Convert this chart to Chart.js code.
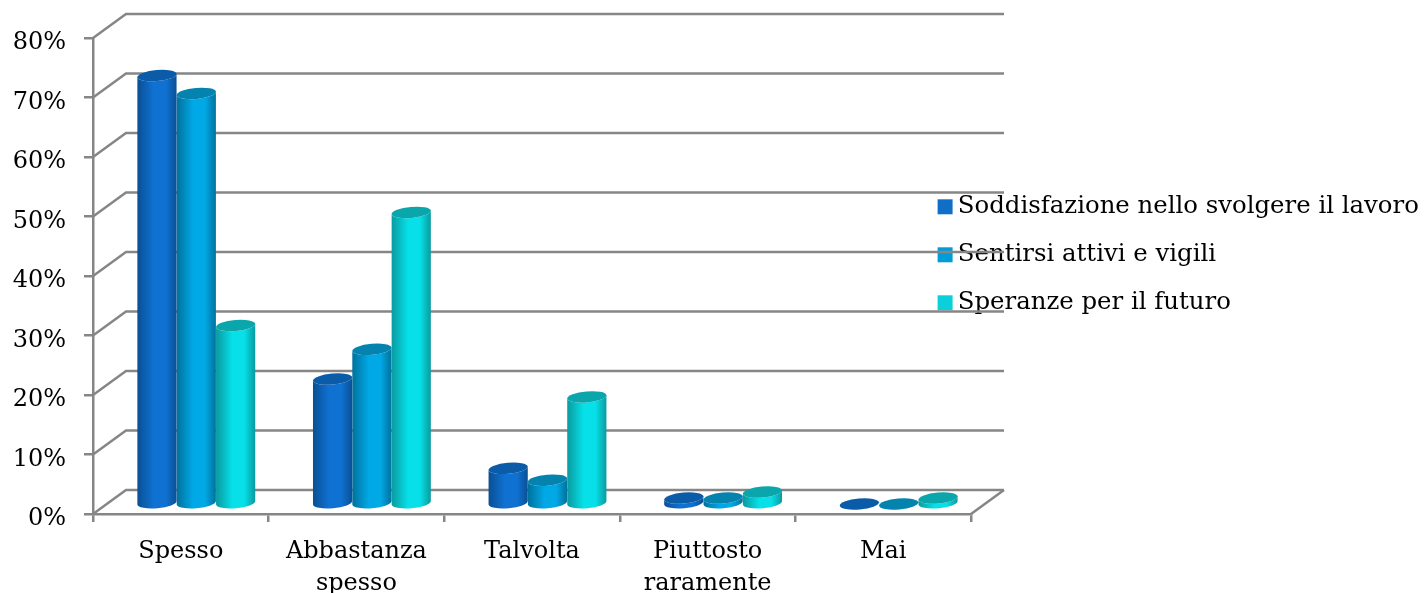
<!DOCTYPE html>
<html lang="it">
<head>
    <meta charset="UTF-8">
    <title>Frequenza</title>
    <script src="https://cdn.jsdelivr.net/npm/chart.js"></script>
    <style>
        html, body { margin: 0; padding: 0; background: #fff; }
        canvas { display: block; }
    </style>
</head>
<body>
    <canvas id="chart" width="1425" height="593"></canvas>

    <script>
        const categories = [['Spesso'], ['Abbastanza', 'spesso'], ['Talvolta'], ['Piuttosto', 'raramente'], ['Mai']];
        const seriesNames = ['Soddisfazione nello svolgere il lavoro', 'Sentirsi attivi e vigili', 'Speranze per il futuro'];
        const soddisfazione = [72, 21, 6, 1, 0];
        const attivi = [69, 26, 4, 1, 0];
        const speranze = [30, 49, 18, 2, 1];

        // flat colour (legend), cylinder edge, cylinder centre, cap
        const flatColors = ['#0f6fc6', '#009dd9', '#0bd0d9'];
        const edgeColors = ['#0a4f94', '#00719c', '#0a9a9f'];
        const midColors = ['#0f72d2', '#00a8e6', '#07e0e8'];
        const capColors = ['#0b5ca8', '#0483ae', '#0ba6ab'];

        const axisColor = '#868686';
        const wallDx = 33, wallDy = -24;   // how far the back wall sits behind the axes
        const barDx = 15.5, barDy = -10;   // bars stand in the middle of the floor
        const capRy = 5.5, capTilt = -5 * Math.PI / 180;

        // Bar element that keeps the normal geometry but paints a cylinder
        class CylinderBar extends Chart.BarElement {
            draw(ctx) {
                const { x, y, base, width } = this.getProps(['x', 'y', 'base', 'width']);
                const o = this.options;
                const cx = x + barDx, top = y + barDy, bottom = base + barDy;
                const rx = width / 2;
                const ex = rx * Math.cos(capTilt), ey = rx * Math.sin(capTilt);

                const grad = ctx.createLinearGradient(cx - rx, 0, cx + rx, 0);
                grad.addColorStop(0, o.edgeColor);
                grad.addColorStop(0.42, o.midColor);
                grad.addColorStop(0.72, o.midColor);
                grad.addColorStop(1, o.edgeColor);

                ctx.save();
                ctx.beginPath();
                ctx.ellipse(cx, bottom, rx, capRy, capTilt, 0, Math.PI);
                ctx.lineTo(cx - ex, top - ey);
                ctx.ellipse(cx, top, rx, capRy, capTilt, Math.PI, 0, true);
                ctx.closePath();
                ctx.fillStyle = grad;
                ctx.fill();

                ctx.beginPath();
                ctx.ellipse(cx, top, rx, capRy, capTilt, 0, Math.PI * 2);
                ctx.fillStyle = o.capColor;
                ctx.fill();
                ctx.restore();
            }
        }
        CylinderBar.id = 'cylinderBar';
        CylinderBar.defaults = { edgeColor: '#000', midColor: '#000', capColor: '#000' };

        class CylinderController extends Chart.BarController {}
        CylinderController.id = 'cylinder';
        CylinderController.defaults = { dataElementType: 'cylinderBar' };

        Chart.register(CylinderBar, CylinderController);

        // Back wall, floor edge and the diagonals that join them to the axes
        const wallPlugin = {
            id: 'wall',
            beforeDatasetsDraw(chart) {
                const { ctx, chartArea, scales } = chart;
                const left = chartArea.left, right = chartArea.right;
                ctx.save();
                ctx.strokeStyle = axisColor;
                ctx.lineWidth = 2.5;
                scales.y.ticks.forEach((tick, i) => {
                    const py = scales.y.getPixelForTick(i);
                    ctx.beginPath();
                    ctx.moveTo(left, py);
                    ctx.lineTo(left + wallDx, py + wallDy);
                    ctx.lineTo(right + wallDx, py + wallDy);
                    ctx.stroke();
                });
                ctx.beginPath();
                ctx.moveTo(right, scales.y.bottom);
                ctx.lineTo(right + wallDx, scales.y.bottom + wallDy);
                ctx.stroke();
                ctx.restore();
            },
            afterLayout(chart) {
                // the legend sits over the end of the wall
                const legend = chart.legend;
                const w = legend.width, h = legend.height;
                legend.left = 921;
                legend.right = 921 + w;
                legend.top = 171;
                legend.bottom = 171 + h;
                legend.adjustHitBoxes();
            }
        };

        const makeDataset = (i, values) => ({
            label: seriesNames[i],
            data: values,
            backgroundColor: flatColors[i],
            edgeColor: edgeColors[i],
            midColor: midColors[i],
            capColor: capColors[i]
        });

        new Chart(document.getElementById('chart').getContext('2d'), {
            type: 'cylinder',
            data: {
                labels: categories,
                datasets: [
                    makeDataset(0, soddisfazione),
                    makeDataset(1, attivi),
                    makeDataset(2, speranze)
                ]
            },
            options: {
                responsive: false,
                animation: false,
                categoryPercentage: 0.672,
                barPercentage: 1,
                layout: {
                    autoPadding: false,
                    padding: { left: 0, right: 454, top: 38, bottom: 0 }
                },
                scales: {
                    x: {
                        type: 'category',
                        offset: true,
                        afterFit(scale) { scale.height = 79; },
                        grid: { offset: true, drawOnChartArea: false, color: axisColor, lineWidth: 2.5, tickLength: 8 },
                        border: { color: axisColor, width: 2.5 },
                        ticks: {
                            color: '#000',
                            font: { family: '"DejaVu Serif"', size: 24, lineHeight: 1.33 },
                            padding: 14,
                            maxRotation: 0,
                            autoSkip: false
                        }
                    },
                    y: {
                        min: 0,
                        max: 80,
                        afterFit(scale) { scale.width = 93; },
                        grid: { drawOnChartArea: false, color: axisColor, lineWidth: 2.5, tickLength: 9 },
                        border: { color: axisColor, width: 2.5 },
                        ticks: {
                            stepSize: 10,
                            color: '#000',
                            font: { family: '"DejaVu Serif"', size: 24 },
                            padding: 18,
                            labelOffset: 5,
                            callback: value => value + '%'
                        }
                    }
                },
                plugins: {
                    tooltip: { enabled: false },
                    legend: {
                        position: 'chartArea',
                        align: 'start',
                        labels: {
                            color: '#000',
                            font: { family: '"DejaVu Serif"', size: 24.4 },
                            boxWidth: 1,
                            boxHeight: 1,
                            padding: 23.6,
                            generateLabels: () => seriesNames.map((name, i) => ({
                                text: name,
                                fillStyle: flatColors[i],
                                strokeStyle: flatColors[i],
                                lineWidth: 14,
                                datasetIndex: i
                            }))
                        }
                    }
                }
            },
            plugins: [wallPlugin]
        });
    </script>
</body>
</html>
